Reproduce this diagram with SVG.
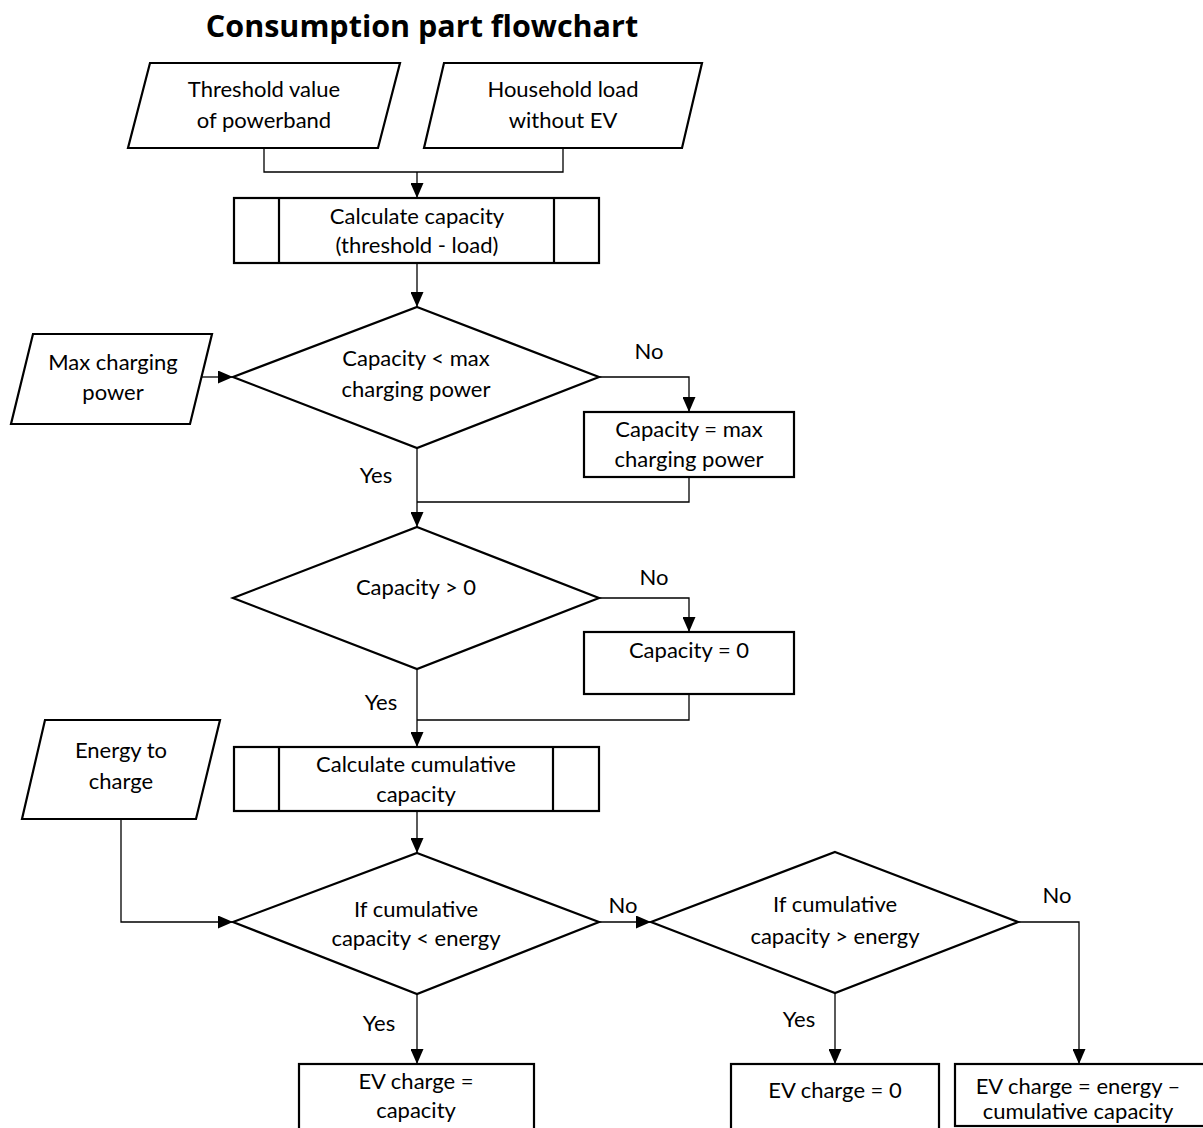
<svg xmlns="http://www.w3.org/2000/svg" width="1203" height="1128" viewBox="0 0 1203 1128">
<style>
.shape{fill:#fff;stroke:#000;stroke-width:2.2}
.conn{fill:none;stroke:#000;stroke-width:1.3}
.t{font-family:Lato,"Open Sans","Liberation Sans",sans-serif;font-size:22px;fill:#000;text-anchor:middle}
.title{font-family:"Open Sans",Lato,"Liberation Sans",sans-serif;font-size:30.5px;font-weight:bold;fill:#000;text-anchor:middle}
</style>
<defs>
<marker id="arr" markerWidth="15" markerHeight="13" refX="15" refY="6.5" orient="auto" markerUnits="userSpaceOnUse">
<path d="M0,0 L15,6.5 L0,13 Z" fill="#000"/>
</marker>
</defs>
<rect width="1203" height="1128" fill="#fff"/>
<text class="title" x="422" y="37">Consumption part flowchart</text>

<g id="connectors">
<path class="conn" d="M264,148 V172 H563 V148"/>
<path class="conn" d="M417,172 V198" marker-end="url(#arr)"/>
<path class="conn" d="M417,263 V307" marker-end="url(#arr)"/>
<path class="conn" d="M201,377 H233" marker-end="url(#arr)"/>
<path class="conn" d="M599,377 H689 V412" marker-end="url(#arr)"/>
<path class="conn" d="M417,448 V527" marker-end="url(#arr)"/>
<path class="conn" d="M689,477 V502 H417"/>
<path class="conn" d="M599,598 H689 V632" marker-end="url(#arr)"/>
<path class="conn" d="M417,669 V747" marker-end="url(#arr)"/>
<path class="conn" d="M689,694 V720 H417"/>
<path class="conn" d="M417,811 V853" marker-end="url(#arr)"/>
<path class="conn" d="M121,819 V922 H233" marker-end="url(#arr)"/>
<path class="conn" d="M599,922 H651" marker-end="url(#arr)"/>
<path class="conn" d="M417,994 V1064" marker-end="url(#arr)"/>
<path class="conn" d="M835,993 V1064" marker-end="url(#arr)"/>
<path class="conn" d="M1018,922 H1079 V1064" marker-end="url(#arr)"/>
<text class="t" x="649" y="359">No</text>
<text class="t" x="376" y="483">Yes</text>
<text class="t" x="654" y="585">No</text>
<text class="t" x="381" y="710">Yes</text>
<text class="t" x="623" y="913">No</text>
<text class="t" x="379" y="1031">Yes</text>
<text class="t" x="1057" y="903">No</text>
<text class="t" x="799" y="1027">Yes</text>
</g>

<g id="in-threshold">
<polygon class="shape" points="150,63 400,63 378,148 128,148"/>
<text class="t" x="264" y="97">Threshold value</text>
<text class="t" x="264" y="128">of powerband</text>
</g>
<g id="in-household">
<polygon class="shape" points="444,63 702,63 682,148 424,148"/>
<text class="t" x="563" y="97">Household load</text>
<text class="t" x="563" y="128">without EV</text>
</g>
<g id="calc-capacity">
<rect class="shape" x="234" y="198" width="365" height="65"/>
<line class="shape" x1="279" y1="198" x2="279" y2="263"/>
<line class="shape" x1="554" y1="198" x2="554" y2="263"/>
<text class="t" x="417" y="224">Calculate capacity</text>
<text class="t" x="417" y="253">(threshold - load)</text>
</g>
<g id="in-maxpower">
<polygon class="shape" points="33,334 212,334 190,424 11,424"/>
<text class="t" x="113" y="370">Max charging</text>
<text class="t" x="113" y="400">power</text>
</g>
<g id="dec-maxpower">
<polygon class="shape" points="417,307 599,377 417,448 233,377"/>
<text class="t" x="416" y="366">Capacity &lt; max</text>
<text class="t" x="416" y="397">charging power</text>
</g>
<g id="set-max">
<rect class="shape" x="584" y="412" width="210" height="65"/>
<text class="t" x="689" y="437">Capacity = max</text>
<text class="t" x="689" y="467">charging power</text>
</g>
<g id="dec-positive">
<polygon class="shape" points="417,527 599,598 417,669 233,598"/>
<text class="t" x="416" y="595">Capacity &gt; 0</text>
</g>
<g id="set-zero">
<rect class="shape" x="584" y="632" width="210" height="62"/>
<text class="t" x="689" y="658">Capacity = 0</text>
</g>
<g id="in-energy">
<polygon class="shape" points="45,720 220,720 196,819 22,819"/>
<text class="t" x="121" y="758">Energy to</text>
<text class="t" x="121" y="789">charge</text>
</g>
<g id="calc-cumulative">
<rect class="shape" x="234" y="747" width="365" height="64"/>
<line class="shape" x1="279" y1="747" x2="279" y2="811"/>
<line class="shape" x1="553" y1="747" x2="553" y2="811"/>
<text class="t" x="416" y="772">Calculate cumulative</text>
<text class="t" x="416" y="802">capacity</text>
</g>
<g id="dec-less">
<polygon class="shape" points="417,853 599,922 417,994 233,922"/>
<text class="t" x="416" y="917">If cumulative</text>
<text class="t" x="416" y="946">capacity &lt; energy</text>
</g>
<g id="dec-greater">
<polygon class="shape" points="835,852 1018,922 835,993 651,922"/>
<text class="t" x="835" y="912">If cumulative</text>
<text class="t" x="835" y="944">capacity &gt; energy</text>
</g>
<g id="out-capacity">
<rect class="shape" x="299" y="1064" width="235" height="80"/>
<text class="t" x="416" y="1089">EV charge =</text>
<text class="t" x="416" y="1118">capacity</text>
</g>
<g id="out-zero">
<rect class="shape" x="731" y="1064" width="208" height="80"/>
<text class="t" x="835" y="1098">EV charge = 0</text>
</g>
<g id="out-diff">
<rect class="shape" x="955" y="1064" width="260" height="62"/>
<text class="t" x="1078" y="1094">EV charge = energy –</text>
<text class="t" x="1078" y="1119">cumulative capacity</text>
</g>
</svg>
